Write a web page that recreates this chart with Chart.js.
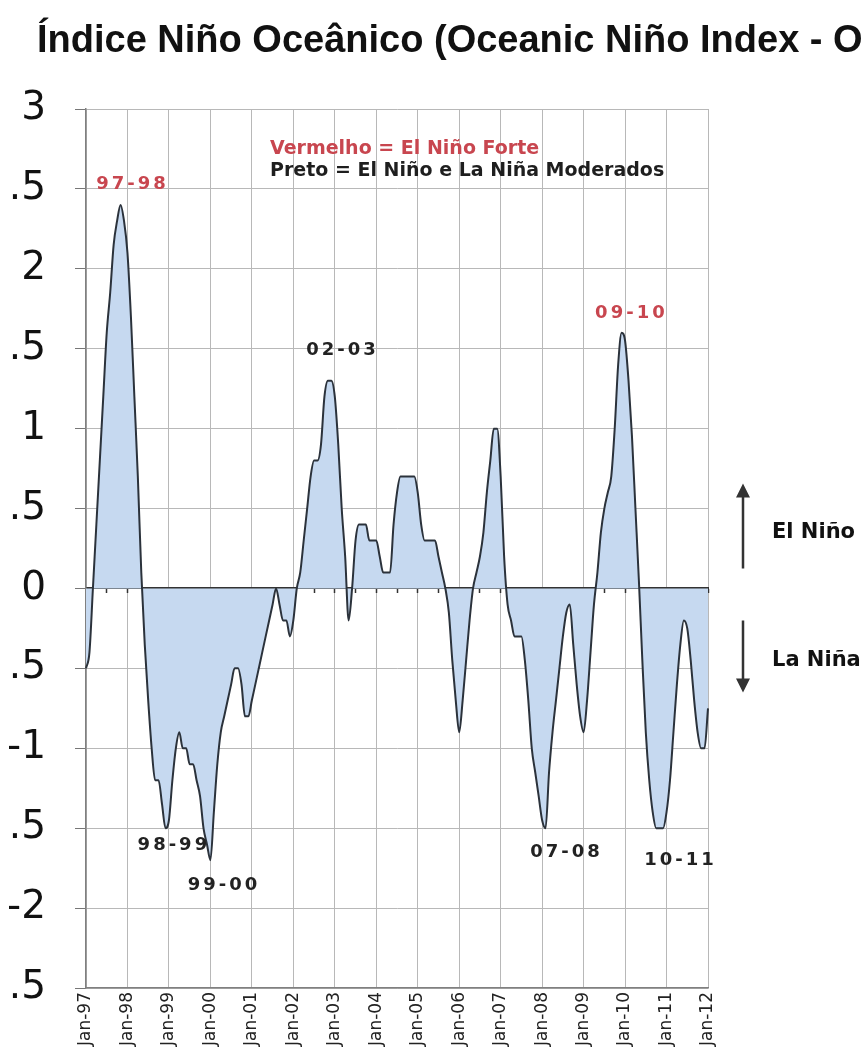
<!DOCTYPE html>
<html lang="pt">
<head>
<meta charset="UTF-8">
<title>Índice Niño Oceânico</title>
<style>
    html, body {
        margin: 0;
        padding: 0;
        background: #fff;
        overflow: hidden;
    }
    #chart-container {
        position: relative;
        width: 863px;
        height: 1048px;
    }
</style>
</head>
<body>
<div id="chart-container">
    <canvas id="oniChart"></canvas>
</div>

<script src="https://cdn.jsdelivr.net/npm/chart.js"></script>
<script>
    const titleText = 'Índice Niño Oceânico (Oceanic Niño Index - ONI)';

    // eixo x: meses de Jan-97 até Jan-12
    const monthNames = ['Jan', 'Feb', 'Mar', 'Apr', 'May', 'Jun', 'Jul', 'Aug', 'Sep', 'Oct', 'Nov', 'Dec'];
    const years = ['97', '98', '99', '00', '01', '02', '03', '04', '05', '06', '07', '08', '09', '10', '11'];
    const lastLabel = 'Jan-12';

    // eixo y
    const yMin = -2.5;
    const yMax = 3;
    const yStep = 0.5;

    // valores mensais do ONI
    const oni = [
        -0.5, -0.4, 0.0, 0.4, 0.8, 1.2, 1.6, 1.85, 2.15, 2.3, 2.4, 2.3,          // 1997
        2.1, 1.7, 1.2, 0.7, 0.1, -0.35, -0.7, -1.0, -1.2, -1.2, -1.35, -1.5,      // 1998
        -1.45, -1.2, -1.0, -0.9, -1.0, -1.0, -1.1, -1.1, -1.2, -1.3, -1.5, -1.6,  // 1999
        -1.7, -1.4, -1.1, -0.9, -0.8, -0.7, -0.6, -0.5, -0.5, -0.6, -0.8, -0.8,   // 2000
        -0.7, -0.6, -0.5, -0.4, -0.3, -0.2, -0.1, 0.0, -0.1, -0.2, -0.2, -0.3,    // 2001
        -0.2, 0.0, 0.1, 0.3, 0.5, 0.7, 0.8, 0.8, 0.9, 1.2, 1.3, 1.3,              // 2002
        1.2, 0.9, 0.5, 0.2, -0.2, 0.0, 0.3, 0.4, 0.4, 0.4, 0.3, 0.3,              // 2003
        0.3, 0.2, 0.1, 0.1, 0.1, 0.4, 0.6, 0.7, 0.7, 0.7, 0.7, 0.7,               // 2004
        0.6, 0.4, 0.3, 0.3, 0.3, 0.3, 0.2, 0.1, 0.0, -0.15, -0.45, -0.7,          // 2005
        -0.9, -0.7, -0.45, -0.2, 0.0, 0.1, 0.2, 0.35, 0.6, 0.8, 1.0, 1.0,         // 2006
        0.7, 0.2, -0.1, -0.2, -0.3, -0.3, -0.3, -0.45, -0.7, -1.0, -1.15, -1.3,   // 2007
        -1.45, -1.5, -1.15, -0.9, -0.7, -0.5, -0.3, -0.15, -0.1, -0.35, -0.6, -0.8, // 2008
        -0.9, -0.7, -0.4, -0.1, 0.1, 0.35, 0.5, 0.6, 0.7, 1.0, 1.4, 1.6,          // 2009
        1.55, 1.3, 0.95, 0.5, 0.05, -0.45, -0.9, -1.2, -1.4, -1.5, -1.5, -1.5,    // 2010
        -1.4, -1.2, -0.9, -0.6, -0.35, -0.2, -0.25, -0.45, -0.7, -0.9, -1.0, -1.0, // 2011
        -0.75                                                                     // 2012
    ];

    // rótulos dos eventos (posição em índice de mês / valor do eixo y)
    const eventNames = ['97-98', '98-99', '99-00', '02-03', '07-08', '09-10', '10-11'];
    const eventIndex = [13, 25, 39.5, 73.8, 138.6, 157.4, 171.6];
    const eventValue = [2.53, -1.61, -1.86, 1.49, -1.65, 1.72, -1.7];
    const eventStrong = [true, false, false, false, false, true, false];

    const legendLines = ['Vermelho = El Niño Forte', 'Preto = El Niño e La Niña Moderados'];
    const sideNotes = ['El Niño', 'La Niña'];

    const red = '#c8464f';
    const dark = '#1e1e1e';

    const labels = [];
    years.forEach(yy => monthNames.forEach(m => labels.push(m + '-' + yy)));
    labels.push(lastLabel);

    Chart.defaults.font.family = '"DejaVu Sans", sans-serif';

    const annotations = {
        id: 'annotations',
        afterDraw(chart) {
            const { ctx, chartArea } = chart;
            const x = chart.scales.x;
            const y = chart.scales.y;
            ctx.save();

            // a imagem original está cortada à esquerda: só sobra o fim dos rótulos do eixo y
            ctx.clearRect(0, chartArea.top - 40, 9, chartArea.bottom - chartArea.top + 80);

            // título (cortado à direita como no original)
            ctx.font = 'bold 38px "Liberation Sans", Arial, sans-serif';
            ctx.fillStyle = '#111';
            ctx.textAlign = 'left';
            ctx.textBaseline = 'alphabetic';
            ctx.fillText(titleText, 37, 52);

            // legenda em texto
            ctx.font = 'bold 19px "DejaVu Sans", sans-serif';
            ctx.textBaseline = 'middle';
            ctx.fillStyle = red;
            ctx.fillText(legendLines[0], chartArea.left + 184, chartArea.top + 40);
            ctx.fillStyle = dark;
            ctx.fillText(legendLines[1], chartArea.left + 184, chartArea.top + 62);

            // rótulos dos eventos
            ctx.font = 'bold 18px "DejaVu Sans", sans-serif';
            ctx.textAlign = 'center';
            ctx.letterSpacing = '3px';
            eventNames.forEach((name, i) => {
                ctx.fillStyle = eventStrong[i] ? red : '#222';
                ctx.fillText(name, x.getPixelForValue(eventIndex[i]) + 1.5, y.getPixelForValue(eventValue[i]));
            });
            ctx.letterSpacing = '0px';

            // setas El Niño / La Niña
            const zero = y.getPixelForValue(0);
            const ax = chartArea.right + 35;
            ctx.strokeStyle = '#333';
            ctx.fillStyle = '#333';
            ctx.lineWidth = 2.5;
            ctx.beginPath();
            ctx.moveTo(ax, zero - 20);
            ctx.lineTo(ax, zero - 94);
            ctx.moveTo(ax, zero + 32);
            ctx.lineTo(ax, zero + 93);
            ctx.stroke();
            ctx.beginPath();
            ctx.moveTo(ax, zero - 105);
            ctx.lineTo(ax - 7, zero - 91);
            ctx.lineTo(ax + 7, zero - 91);
            ctx.closePath();
            ctx.moveTo(ax, zero + 104);
            ctx.lineTo(ax - 7, zero + 90);
            ctx.lineTo(ax + 7, zero + 90);
            ctx.closePath();
            ctx.fill();

            ctx.font = 'bold 21px "DejaVu Sans", sans-serif';
            ctx.textAlign = 'left';
            ctx.fillStyle = '#111';
            ctx.fillText(sideNotes[0], chartArea.right + 64, zero - 56);
            ctx.fillText(sideNotes[1], chartArea.right + 64, zero + 72);

            ctx.restore();
        }
    };

    const ctx = document.getElementById('oniChart').getContext('2d');
    const chart = new Chart(ctx, {
        type: 'line',
        data: {
            labels: labels,
            datasets: [{
                label: 'ONI',
                data: oni,
                borderColor: '#2b323b',
                borderWidth: 2,
                backgroundColor: '#c6d9f0',
                fill: 'origin',
                pointRadius: 0,
                cubicInterpolationMode: 'monotone'
            }]
        },
        options: {
            responsive: true,
            maintainAspectRatio: false,
            animation: false,
            layout: {
                padding: { top: 109, right: 155, bottom: 0, left: 0 }
            },
            plugins: {
                legend: { display: false },
                tooltip: { enabled: false }
            },
            scales: {
                x: {
                    type: 'category',
                    offset: false,
                    grid: {
                        color: c => (c.index % 12 === 0 ? '#b8b8b8' : 'rgba(0,0,0,0)'),
                        drawTicks: false
                    },
                    border: { color: '#808080', width: 1.5 },
                    ticks: {
                        autoSkip: false,
                        minRotation: 90,
                        maxRotation: 90,
                        padding: 4,
                        color: '#222',
                        font: { size: 17 },
                        callback: (v, i) => (i % 12 === 0 ? labels[i] : '')
                    },
                    afterFit: s => { s.height = 60; }
                },
                zero: {
                    type: 'category',
                    axis: 'x',
                    position: { y: 0 },
                    offset: false,
                    z: 1,
                    grid: {
                        drawOnChartArea: false,
                        drawTicks: true,
                        tickLength: 4,
                        tickWidth: 1.5,
                        tickColor: c => (c.index % 6 === 0 ? '#333' : 'rgba(0,0,0,0)')
                    },
                    border: { color: '#333', width: 2 },
                    ticks: { display: false, autoSkip: false }
                },
                y: {
                    min: yMin,
                    max: yMax,
                    ticks: {
                        stepSize: yStep,
                        padding: 29,
                        color: '#111',
                        font: { size: 39 },
                        format: { minimumFractionDigits: 0, maximumFractionDigits: 1 }
                    },
                    grid: {
                        color: '#b8b8b8',
                        tickLength: 11,
                        tickColor: '#777'
                    },
                    border: { color: '#808080', width: 1.5 },
                    afterFit: s => { s.width = 86; }
                }
            }
        },
        plugins: [annotations]
    });
</script>
</body>
</html>
